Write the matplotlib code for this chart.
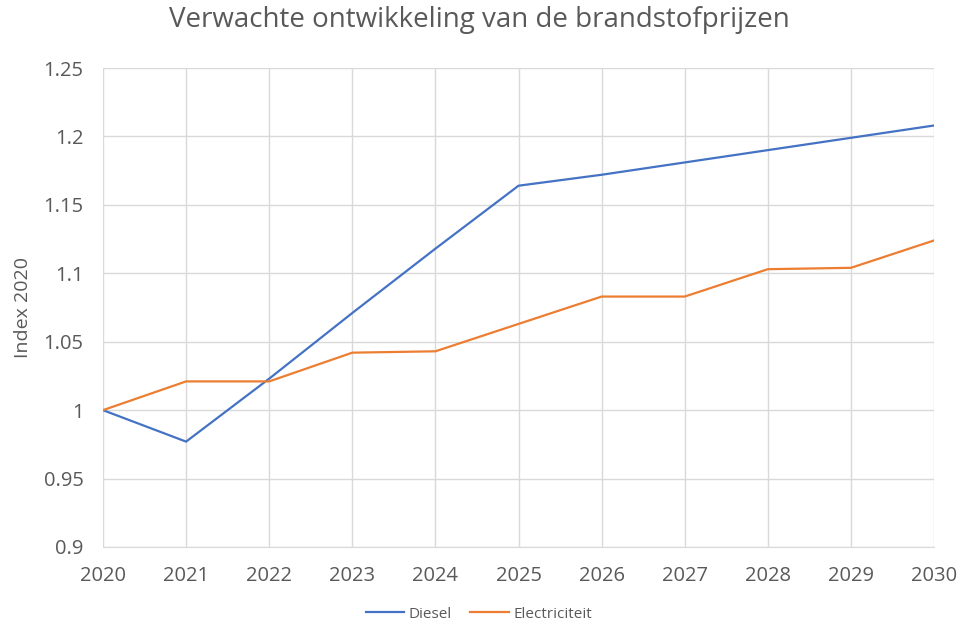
import matplotlib.pyplot as plt

years = [2020, 2021, 2022, 2023, 2024, 2025, 2026, 2027, 2028, 2029, 2030]
diesel = [1.0, 0.977, 1.023, 1.071, 1.118, 1.164, 1.172, 1.181, 1.190, 1.199, 1.208]
electricity = [1.0, 1.021, 1.021, 1.042, 1.043, 1.063, 1.083, 1.083, 1.103, 1.104, 1.124]
y_ticks = [0.9, 0.95, 1.0, 1.05, 1.1, 1.15, 1.2, 1.25]
y_labels = ["0.9", "0.95", "1", "1.05", "1.1", "1.15", "1.2", "1.25"]

plt.rcParams['font.family'] = ['Open Sans', 'DejaVu Sans']
text_color = "#595959"
grid_color = "#d9d9d9"

fig = plt.figure(figsize=(9.58, 6.24), dpi=100)
ax = fig.add_axes([0.1075, 0.1234, 0.8675, 0.7676])

ax.plot(years, diesel, color="#4472C4", linewidth=1.6, label="Diesel")
ax.plot(years, electricity, color="#ED7D31", linewidth=1.6, label="Electriciteit")

ax.set_xlim(2020, 2030)
ax.set_ylim(0.9, 1.25)
ax.set_xticks(years)
ax.set_yticks(y_ticks)
ax.set_yticklabels(y_labels)
ax.grid(True, color=grid_color, linewidth=1)
ax.set_axisbelow(True)
for side in ["top", "right", "left"]:
    ax.spines[side].set_visible(False)
ax.spines["bottom"].set_color(grid_color)
ax.tick_params(length=0, labelsize=14.5, colors=text_color, pad=14)

ax.set_ylabel("Index 2020", fontsize=14, color=text_color, labelpad=8)
fig.suptitle("Verwachte ontwikkeling van de brandstofprijzen", fontsize=20,
             color=text_color, y=0.99)

fig.legend(loc="center", bbox_to_anchor=(0.5, 0.016), ncol=2, frameon=False,
           fontsize=11, labelcolor=text_color, handlelength=2.5, columnspacing=1.2,
           handletextpad=0.3)

fig.savefig("out.png", dpi=100)
